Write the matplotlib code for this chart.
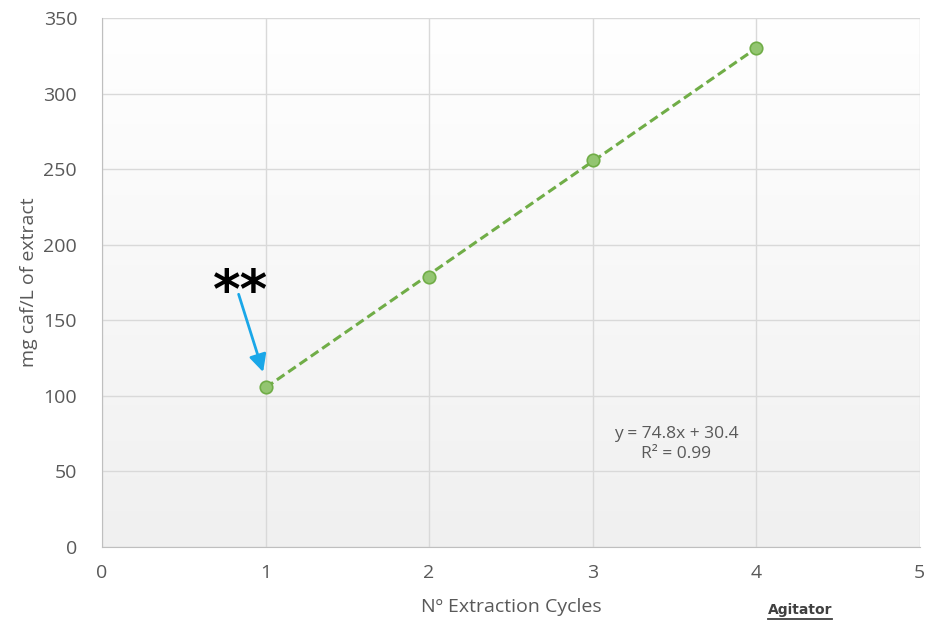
import matplotlib.pyplot as plt
import numpy as np

cycles = [1, 2, 3, 4]
caffeine = [106, 179, 256, 330]
x_ticks = [0, 1, 2, 3, 4, 5]
y_ticks = [0, 50, 100, 150, 200, 250, 300, 350]
equation = "y = 74.8x + 30.4\nR² = 0.99"

plt.rcParams['font.family'] = ['Open Sans', 'DejaVu Sans']
fig = plt.figure(figsize=(9.28, 6.3), dpi=100)
ax = fig.add_axes([0.110, 0.132, 0.881, 0.839])

# gradient background, white on top to light grey at bottom
grad = np.linspace(0, 1, 256).reshape(-1, 1)
ax.imshow(grad, extent=[0, 1, 0, 1], transform=ax.transAxes, aspect='auto',
          cmap=plt.matplotlib.colors.LinearSegmentedColormap.from_list('g', ['#f0f0f0', '#ffffff']),
          origin='lower', zorder=0)

ax.set_xlim(0, 5)
ax.set_ylim(0, 350)
ax.set_xticks(x_ticks)
ax.set_yticks(y_ticks)
ax.grid(True, color='#d9d9d9', linewidth=1, zorder=1)
ax.set_axisbelow(True)
for s in ['top', 'right']:
    ax.spines[s].set_visible(False)
for s in ['left', 'bottom']:
    ax.spines[s].set_color('#bfbfbf')
ax.tick_params(length=0, labelsize=14, labelcolor='#595959', pad=12)
ax.tick_params(axis='y', pad=18)

# trendline
k, b = np.polyfit(cycles, caffeine, 1)
xt = np.array([cycles[0], cycles[-1]])
ax.plot(xt, k * xt + b, ls=(0, (3, 1.5)), color='#70ad47', lw=2.2, zorder=3)
ax.plot(cycles, caffeine, 'o', ms=9, mfc='#93c571', mec='#70ad47', mew=1.2, zorder=4)

ax.text(3.51, 68, equation, ha='center', va='center', fontsize=12.5, color='#595959',
        linespacing=1.3)

ax.annotate('', xy=(0.99, 114), xytext=(0.83, 169),
            arrowprops=dict(arrowstyle='-|>', color='#1aa7e8', lw=2, mutation_scale=26))
ax.text(0.845, 168, '**', ha='center', va='center', fontsize=38, fontweight='bold',
        color='black', family='DejaVu Sans')

ax.set_ylabel('mg caf/L of extract', fontsize=14, color='#595959', labelpad=4)
ax.set_xlabel('Nº Extraction Cycles', fontsize=14, color='#595959', labelpad=12)

fig.text(0.862, 0.025, 'Agitator', ha='center', fontsize=10, fontweight='bold', color='#404040',
         family='DejaVu Sans')
fig.add_artist(plt.Line2D([0.828, 0.897], [0.018, 0.018], color='#404040', lw=1.3))

fig.savefig('out.png', dpi=100)
